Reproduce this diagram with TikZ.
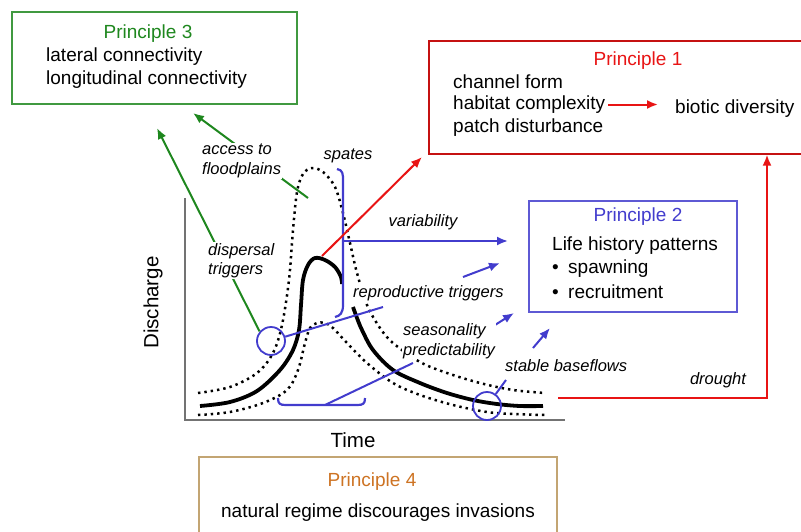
\documentclass[tikz,border=0pt]{standalone}
\usepackage{fontspec}
\setmainfont{Liberation Sans}
\usepackage{tikz}
\usetikzlibrary{calc}
\usetikzlibrary{arrows.meta}
\tikzset{>={Latex[length=11pt,width=9pt]}}
\usepackage{xcolor}
\definecolor{mygreen}{RGB}{30,135,30}
\definecolor{myred}{RGB}{232,20,20}
\definecolor{myblue}{RGB}{66,60,205}
\definecolor{myorange}{RGB}{205,115,35}
\definecolor{mytan}{RGB}{195,165,115}
\definecolor{mygray}{RGB}{115,115,115}
\tikzstyle{box}=[draw,line width=1.2pt,inner sep=0pt]
\tikzstyle{txt}=[inner sep=0pt,yshift=-2.5pt,font=\fontsize{19}{23}\selectfont]
\tikzstyle{lbl}=[inner sep=1pt,yshift=-2.5pt,fill=white,align=left,font=\fontsize{16.5}{19.5}\selectfont\itshape]
\tikzstyle{ring}=[draw=myblue,line width=1.8pt,circle,minimum size=28pt,inner sep=0pt]
\tikzstyle{dots}=[line width=2.5pt,dash pattern=on 2.4pt off 4pt]
\tikzstyle{flow}=[line width=3.8pt]
\tikzstyle{garr}=[->,draw=mygreen,line width=2pt]
\tikzstyle{rarr}=[->,draw=myred,line width=2pt]
\tikzstyle{barr}=[->,draw=myblue,line width=2pt]
\tikzstyle{bline}=[draw=myblue,line width=2pt]

\begin{document}
\begin{tikzpicture}[x=1pt,y=-1pt]
\useasboundingbox (0,0) rectangle (801,531);

\node[box,draw=mygreen!85,minimum width=285pt,minimum height=92pt] (p3) at (154.5,58) {};
\node[box,draw=myred!85!black,minimum width=377pt,minimum height=113pt] (p1) at (617.5,97.5) {};
\node[box,draw=myblue!85,minimum width=208pt,minimum height=111pt] (p2) at (633,256.5) {};
\node[box,draw=mytan,line width=2pt,minimum width=358pt,minimum height=88pt] (p4) at (378,501) {};

\node[txt,text=mygreen] (p3t) at (148,31) {Principle 3};
\node[txt,anchor=west] (lat) at (46,54) {lateral connectivity};
\node[txt,anchor=west] (lon) at (46,77) {longitudinal connectivity};

\node[txt,text=myred] (p1t) at (638,58) {Principle 1};
\node[txt,anchor=west] (cf) at (453,79) {channel form};
\node[txt,anchor=west] (hc) at (453,102) {habitat complexity};
\node[txt,anchor=west] (pd) at (453,125) {patch disturbance};
\node[txt,anchor=west] (bd) at (675,106) {biotic diversity};
\draw[rarr] ([xshift=3pt]hc.east) -- ([xshift=-17pt]hc.east -| bd.west);

\node[txt,text=myblue] (p2t) at (638,214) {Principle 2};
\node[txt,anchor=west] (lh) at (552,243) {Life history patterns};
\node[txt,anchor=west] (sw) at (552,266) {\makebox[16pt][l]{•}spawning};
\node[txt,anchor=west] (rc) at (552,289) {\makebox[16pt][l]{•}recruitment};

\node[txt,text=myorange] (p4t) at (372,479) {Principle 4};
\node[txt] (nr) at (378,510) {natural regime discourages invasions};

% axes
\draw[mygray,line width=1.6pt] (185,198) -- (185,420) -- (565,420);
\node[txt,font=\fontsize{20.5}{24}\selectfont,rotate=90] (dis) at (153,300) {Discharge};
\node[txt,font=\fontsize{20.5}{24}\selectfont] (time) at (353,438) {Time};

% hydrograph
\draw[dots] plot[smooth,tension=0.55] coordinates {(198,393) (230,387) (257,373) (273,353) (282,325) (289,280) (293,230) (297,192) (303,174) (312,168) (323,172) (335,187) (343,213) (350,243) (357,273) (367,305) (380,328) (393,343) (420,362) (447,373) (480,383) (513,390) (545,393)};
\draw[dots] plot[smooth,tension=0.55] coordinates {(198,415) (230,412) (263,403) (287,390) (298,370) (305,343) (310,328) (317,323) (325,323) (333,328) (347,343) (367,363) (393,383) (420,395) (453,405) (487,412) (513,414) (545,415)};
\draw[flow] plot[smooth,tension=0.55] coordinates {(200,406) (230,402) (257,391) (280,370) (293,350) (299,330) (301,305) (303,280) (308,265) (315,258) (325,260) (335,267) (341,277) (342,284)};
\draw[flow] plot[smooth,tension=0.55] coordinates {(353,307) (357,318) (362,330) (373,350) (393,370) (420,383) (447,393) (473,400) (497,404) (520,406) (543,406)};

% brackets
\draw[myblue,line width=2.2pt] (337,169) .. controls (343,170) and (343,174) .. (343,181) -- (343,305) .. controls (343,313) and (340,316) .. (335,317);
\draw[myblue,line width=2.2pt] (278,398) .. controls (278,404) and (280,405) .. (286,405) -- (357,405) .. controls (363,405) and (365,404) .. (365,398);
\node[ring] (c1) at (271,341) {};
\node[ring] (c2) at (487,406) {};

\coordinate (pk) at (322,256);
\coordinate (r1) at (422,157);
\coordinate (sp) at (343,241);
\coordinate (va) at (508,241);
\coordinate (g1) at (157,128);
\coordinate (tk) at (308,198);
\coordinate (g2) at (193,113);
\coordinate (rt1) at (383,307);
\coordinate (rt2) at (463,277);
\coordinate (rt3) at (500,263);
\coordinate (br) at (325,405);
\coordinate (se1) at (413,363);
\coordinate (se2) at (495,325);
\coordinate (se3) at (514,313);
\coordinate (sb1) at (506,380);
\coordinate (sb2) at (533,348);
\coordinate (sb3) at (550,328);
\coordinate (dr0) at (558,398);
\coordinate (dr1) at (767,398);

\draw[rarr] (pk) -- (r1);
\draw[rarr] (dr0) -- (dr1) -- (dr1 |- p1.south);
\draw[barr] (sp) -- (va);
\draw[garr] (c1.140) -- (g1);
\draw[garr] (tk) -- (g2);
\draw[bline] (c1) -- (rt1);
\draw[barr] (rt2) -- (rt3);
\draw[bline] (br) -- (se1);
\draw[barr] (se2) -- (se3);
\draw[bline] (c2) -- (sb1);
\draw[barr] (sb2) -- (sb3);

% labels
\node[lbl,anchor=west] (acc) at (201,158.5) {access to\\floodplains};
\node[lbl] (spa) at (348,153) {spates};
\node[lbl] (var) at (423,220) {variability};
\node[lbl,anchor=west] (dsp) at (207,258) {dispersal\\triggers};
\node[lbl,anchor=west] (rep) at (352,291) {reproductive triggers};
\node[lbl,anchor=west] (sea) at (402,338.5) {seasonality\\predictability};
\node[lbl,anchor=west] (stb) at (504,363) {stable baseflows};
\node[lbl] (dro) at (718,378) {drought};
\end{tikzpicture}
\end{document}
